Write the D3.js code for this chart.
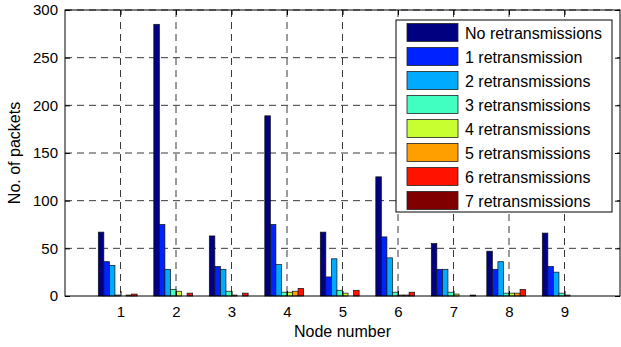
<!DOCTYPE html>
<html>
<head>
<meta charset="utf-8">
<script src="https://cdn.jsdelivr.net/npm/d3@7"></script>
<style>
  body { margin: 0; background: #fff; }
  svg text { font-family: "Liberation Sans", Arial, Helvetica, sans-serif; fill: #000; }
</style>
</head>
<body>
<svg id="chart" width="621" height="347"></svg>
<script>
    'use strict';

    // node numbers on the x axis
    const nodes = [1, 2, 3, 4, 5, 6, 7, 8, 9];
    const seriesNames = ['No retransmissions', '1 retransmission', '2 retransmissions', '3 retransmissions',
        '4 retransmissions', '5 retransmissions', '6 retransmissions', '7 retransmissions'];
    const seriesColors = ['#000080', '#0022ff', '#00aaff', '#40ffc0', '#c8ff30', '#ffa000', '#ff1200', '#800000'];

    // packets per node, one array per retransmission count
    const retx0 = [67, 285, 63, 189, 67, 125, 55, 47, 66];
    const retx1 = [36, 75, 31, 75, 20, 62, 28, 28, 31];
    const retx2 = [32, 28, 28, 33, 39, 40, 28, 36, 25];
    const retx3 = [1, 7, 5, 4, 6, 4, 4, 3, 3];
    const retx4 = [0, 5, 1, 4, 3, 1, 2, 3, 1];
    const retx5 = [1, 0, 0, 5, 0, 1, 0, 3, 0];
    const retx6 = [2, 3, 3, 8, 6, 4, 0, 7, 0];
    const retx7 = [0, 0, 0, 0, 0, 0, 1, 0, 0];
    const series = [retx0, retx1, retx2, retx3, retx4, retx5, retx6, retx7];

    const yTicks = [0, 50, 100, 150, 200, 250, 300];

    const LAYOUT = { LEFT: 65, RIGHT: 620, TOP: 10, BOTTOM: 296 };
    const FONT = 'Liberation Sans, Arial, sans-serif';

    const svg = d3.select('#chart');

    const x = d3.scaleLinear().domain([0, 10]).range([LAYOUT.LEFT, LAYOUT.RIGHT]);
    const y = d3.scaleLinear().domain([0, 300]).range([LAYOUT.BOTTOM, LAYOUT.TOP]);

    const groupWidth = 0.8,
        barW = groupWidth / series.length;

    // grid
    const grid = svg.append('g').attr('class', 'grid');
    grid.selectAll('line.gx')
        .data(nodes)
        .enter()
        .append('line')
        .attr('x1', d => x(d)).attr('x2', d => x(d))
        .attr('y1', LAYOUT.TOP).attr('y2', LAYOUT.BOTTOM)
        .attr('stroke', '#222').attr('stroke-width', 0.9).attr('stroke-dasharray', '7,5');
    grid.selectAll('line.gy')
        .data(yTicks.filter(t => t > 0))
        .enter()
        .append('line')
        .attr('x1', LAYOUT.LEFT).attr('x2', LAYOUT.RIGHT)
        .attr('y1', d => y(d)).attr('y2', d => y(d))
        .attr('stroke', '#222').attr('stroke-width', 0.9).attr('stroke-dasharray', '7,5');

    // bars
    const bars = svg.append('g').attr('class', 'bars');
    series.forEach((values, s) => {
        bars.selectAll('rect.s' + s)
            .data(values)
            .enter()
            .append('rect')
            .attr('x', (d, i) => x(nodes[i] - groupWidth / 2 + s * barW))
            .attr('width', x(barW) - x(0))
            .attr('y', d => y(d))
            .attr('height', d => y(0) - y(d))
            .attr('fill', seriesColors[s])
            .attr('stroke', d => d > 0 ? '#111' : 'none')
            .attr('stroke-width', 0.7);
    });

    // axes box
    svg.append('rect')
        .attr('x', LAYOUT.LEFT).attr('y', LAYOUT.TOP)
        .attr('width', LAYOUT.RIGHT - LAYOUT.LEFT).attr('height', LAYOUT.BOTTOM - LAYOUT.TOP)
        .attr('fill', 'none').attr('stroke', '#000').attr('stroke-width', 1);

    const tickLen = 5;
    const yAxis = d3.axisLeft(y).tickValues(yTicks).tickSize(-tickLen).tickPadding(7);
    svg.append('g').attr('transform', `translate(${LAYOUT.LEFT},0)`).call(yAxis)
        .call(g => g.select('.domain').remove())
        .call(g => g.selectAll('text').attr('font-size', 15).attr('font-family', FONT));
    svg.append('g').attr('transform', `translate(${LAYOUT.RIGHT},0)`)
        .call(d3.axisRight(y).tickValues(yTicks).tickSize(-tickLen).tickFormat(''))
        .call(g => g.select('.domain').remove());

    const xAxis = d3.axisBottom(x).tickValues(nodes).tickSize(-tickLen).tickPadding(10);
    svg.append('g').attr('transform', `translate(0,${LAYOUT.BOTTOM})`).call(xAxis)
        .call(g => g.select('.domain').remove())
        .call(g => g.selectAll('text').attr('font-size', 15).attr('font-family', FONT));
    svg.append('g').attr('transform', `translate(0,${LAYOUT.TOP})`)
        .call(d3.axisTop(x).tickValues(nodes).tickSize(-tickLen).tickFormat(''))
        .call(g => g.select('.domain').remove());

    // axis titles
    svg.append('text')
        .attr('x', (LAYOUT.LEFT + LAYOUT.RIGHT) / 2).attr('y', 337)
        .attr('text-anchor', 'middle').attr('font-size', 16)
        .text('Node number');
    svg.append('text')
        .attr('transform', `translate(20,${(LAYOUT.TOP + LAYOUT.BOTTOM) / 2}) rotate(-90)`)
        .attr('text-anchor', 'middle').attr('font-size', 16)
        .text('No. of packets');

    // legend
    const legend = svg.append('g').attr('transform', 'translate(396,20)');
    legend.append('rect')
        .attr('width', 216).attr('height', 192)
        .attr('fill', '#fff').attr('stroke', '#000').attr('stroke-width', 1);
    const rows = legend.selectAll('g.row')
        .data(seriesNames)
        .enter()
        .append('g')
        .attr('transform', (d, i) => `translate(11,${3.5 + i * 24})`);
    rows.append('rect')
        .attr('width', 51).attr('height', 18)
        .attr('fill', (d, i) => seriesColors[i])
        .attr('stroke', '#222').attr('stroke-width', 0.8);
    rows.append('text')
        .attr('x', 58).attr('y', 15)
        .attr('font-size', 16)
        .text(d => d);
</script>
</body>
</html>
